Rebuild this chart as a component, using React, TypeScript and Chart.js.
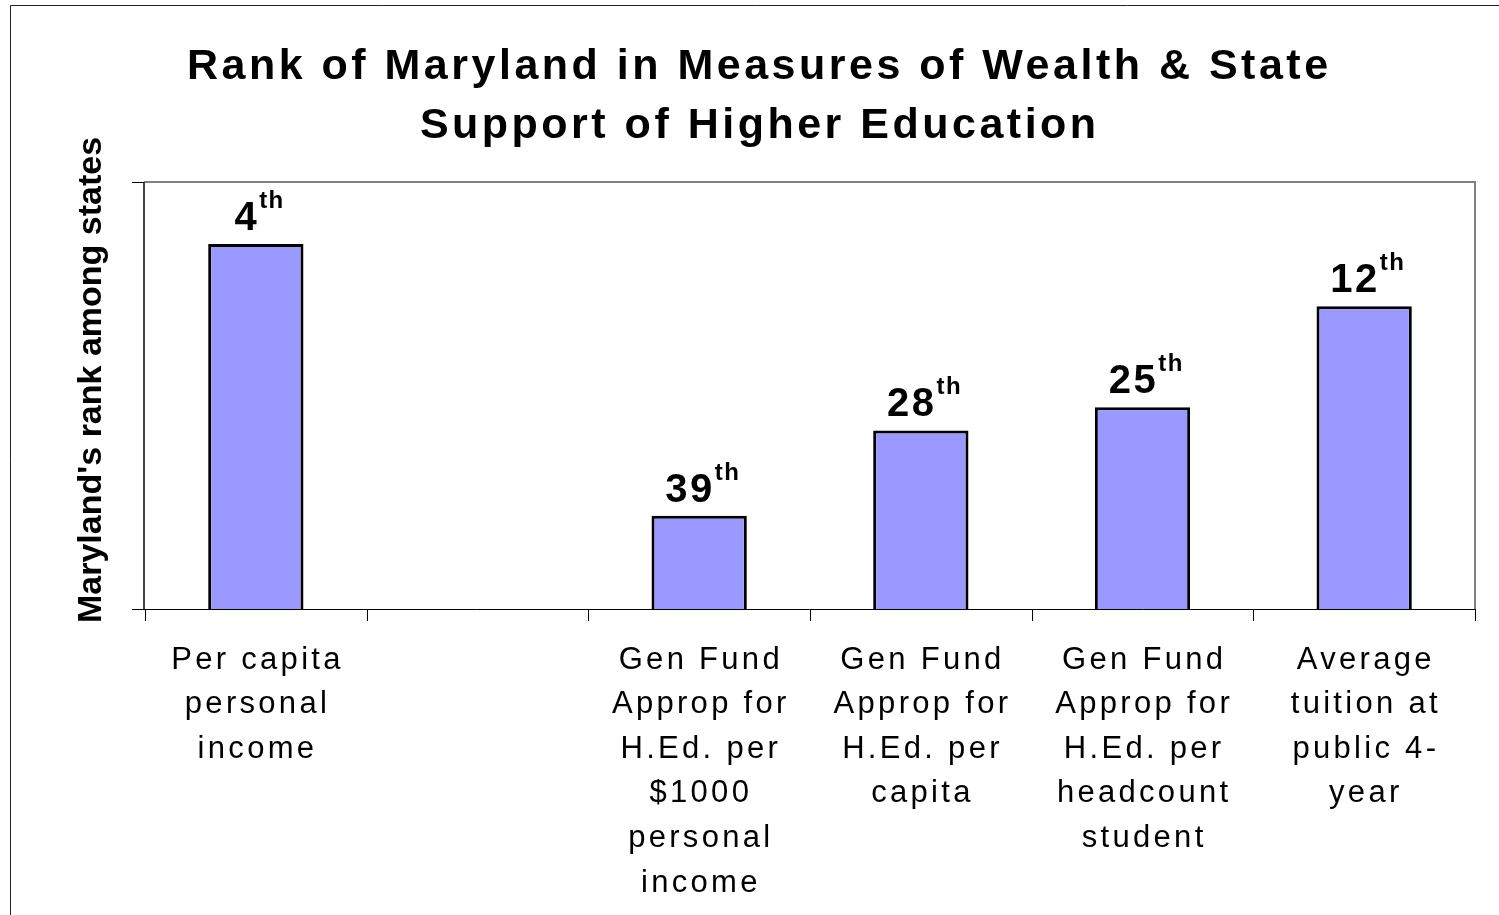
import { useEffect, useRef } from "react";
import { Chart, registerables } from "chart.js";

Chart.register(...registerables);

// ---- data ----
const categories: string[][] = [
  ["Per capita", "personal", "income"],
  [],
  ["Gen Fund", "Approp for", "H.Ed. per", "$1000", "personal", "income"],
  ["Gen Fund", "Approp for", "H.Ed. per", "capita"],
  ["Gen Fund", "Approp for", "H.Ed. per", "headcount", "student"],
  ["Average", "tuition at", "public 4-", "year"],
];
const barValues: (number | null)[] = [47, null, 12, 23, 26, 39];
const rankLabels: (string | null)[] = ["4", null, "39", "28", "25", "12"];
const rankSuffix = "th";
const titleLines = [
  "Rank of Maryland in Measures of Wealth & State",
  "Support of Higher Education",
];
const yAxisTitle = "Maryland's rank among states";
const yMin = 0;
const yMax = 55;

const FONT = '"Liberation Sans", Arial, Helvetica, sans-serif';

const decorPlugin = {
  id: "decor",
  afterDraw(chart: any) {
    const ctx: CanvasRenderingContext2D = chart.ctx;
    const { left, right, top, bottom } = chart.chartArea;
    const xs = chart.scales.x;
    const ys = chart.scales.y;
    ctx.save();

    // outer border (left and top visible)
    ctx.strokeStyle = "#222";
    ctx.lineWidth = 1;
    ctx.beginPath();
    ctx.moveTo(10.5, 920);
    ctx.lineTo(10.5, 5.5);
    ctx.lineTo(1505, 5.5);
    ctx.stroke();

    // plot frame top and right (gray)
    ctx.strokeStyle = "#808080";
    ctx.lineWidth = 2;
    ctx.beginPath();
    ctx.moveTo(left - 1, top);
    ctx.lineTo(right, top);
    ctx.lineTo(right, bottom);
    ctx.stroke();

    // left axis
    ctx.strokeStyle = "#444";
    ctx.lineWidth = 2;
    ctx.beginPath();
    ctx.moveTo(left - 1, top);
    ctx.lineTo(left - 1, bottom);
    ctx.stroke();

    // bottom axis
    ctx.strokeStyle = "#000";
    ctx.lineWidth = 1;
    ctx.beginPath();
    ctx.moveTo(left - 1, Math.round(bottom) + 0.5);
    ctx.lineTo(right, Math.round(bottom) + 0.5);
    ctx.stroke();

    // y ticks
    ctx.beginPath();
    ys.ticks.forEach((t: any) => {
      const py = Math.round(ys.getPixelForValue(t.value)) + 0.5;
      ctx.moveTo(left - 13, py);
      ctx.lineTo(left - 1, py);
    });
    ctx.stroke();

    // x ticks at category boundaries
    ctx.beginPath();
    for (let i = 0; i <= categories.length; i++) {
      const px = Math.round(xs.getPixelForValue(i - 0.5)) + 0.5;
      ctx.moveTo(px, bottom);
      ctx.lineTo(px, bottom + 12);
    }
    ctx.stroke();

    ctx.fillStyle = "#000";

    // title
    ctx.font = `bold 43px ${FONT}`;
    ctx.textAlign = "center";
    ctx.textBaseline = "alphabetic";
    const ts = 3.5;
    (ctx as any).letterSpacing = ts + "px";
    ctx.fillText(titleLines[0], 757.5 + ts / 2, 79);
    ctx.fillText(titleLines[1], 758 + ts / 2, 138);

    // y axis title
    (ctx as any).letterSpacing = "0px";
    ctx.save();
    ctx.translate(92, 380);
    ctx.rotate(-Math.PI / 2);
    ctx.font = `bold 34px ${FONT}`;
    ctx.textBaseline = "middle";
    ctx.textAlign = "center";
    ctx.fillText(yAxisTitle, 0, 0);
    ctx.restore();

    // x category labels
    ctx.font = `31px ${FONT}`;
    ctx.textAlign = "center";
    ctx.textBaseline = "middle";
    const ls = 3.3;
    (ctx as any).letterSpacing = ls + "px";
    const labels = chart.data.labels as string[][];
    labels.forEach((lines, i) => {
      const cx = xs.getPixelForValue(i);
      lines.forEach((line, j) => {
        ctx.fillText(line, cx + ls / 2, 660 + j * 44.6);
      });
    });

    // rank labels with superscript
    const meta = chart.getDatasetMeta(0);
    ctx.textAlign = "left";
    ctx.textBaseline = "alphabetic";
    rankLabels.forEach((lab, i) => {
      if (lab == null) return;
      const bar = meta.data[i] as any;
      if (!bar) return;
      const ds = 2.5;
      const ss = 1.5;
      ctx.font = `bold 40px ${FONT}`;
      (ctx as any).letterSpacing = ds + "px";
      const w1 = ctx.measureText(lab).width;
      ctx.font = `bold 24px ${FONT}`;
      (ctx as any).letterSpacing = ss + "px";
      const w2 = ctx.measureText(rankSuffix).width - ss;
      const total = w1 + w2;
      const sx = bar.x + 3 - total / 2;
      const by = bar.y - 14;
      ctx.font = `bold 40px ${FONT}`;
      (ctx as any).letterSpacing = ds + "px";
      ctx.fillText(lab, sx, by);
      ctx.font = `bold 24px ${FONT}`;
      (ctx as any).letterSpacing = ss + "px";
      ctx.fillText(rankSuffix, sx + w1, by - 22);
    });

    ctx.restore();
  },
};

export default function App() {
  const ref = useRef<HTMLCanvasElement>(null);
  useEffect(() => {
    const chart = new Chart(ref.current!, {
      type: "bar",
      data: {
        labels: categories,
        datasets: [
          {
            data: barValues,
            backgroundColor: "#9999FF",
            borderColor: "#000000",
            borderWidth: 3,
            barPercentage: 0.43,
            categoryPercentage: 1,
          },
        ],
      },
      options: {
        responsive: false,
        animation: false,
        layout: { padding: { left: 145, top: 182, right: 24, bottom: 306 } },
        plugins: {
          legend: { display: false },
          tooltip: { enabled: false },
          title: { display: false },
        },
        scales: {
          x: { display: false, offset: true },
          y: {
            display: false,
            min: yMin,
            max: yMax,
            ticks: { stepSize: yMax },
          },
        },
      },
      plugins: [decorPlugin],
    });
    return () => chart.destroy();
  }, []);
  return (
    <div
      style={{
        position: "fixed",
        left: 0,
        top: 0,
        width: 1499,
        height: 915,
        background: "#fff",
      }}
    >
      <canvas ref={ref} width={1499} height={915} style={{ display: "block" }} />
    </div>
  );
}
